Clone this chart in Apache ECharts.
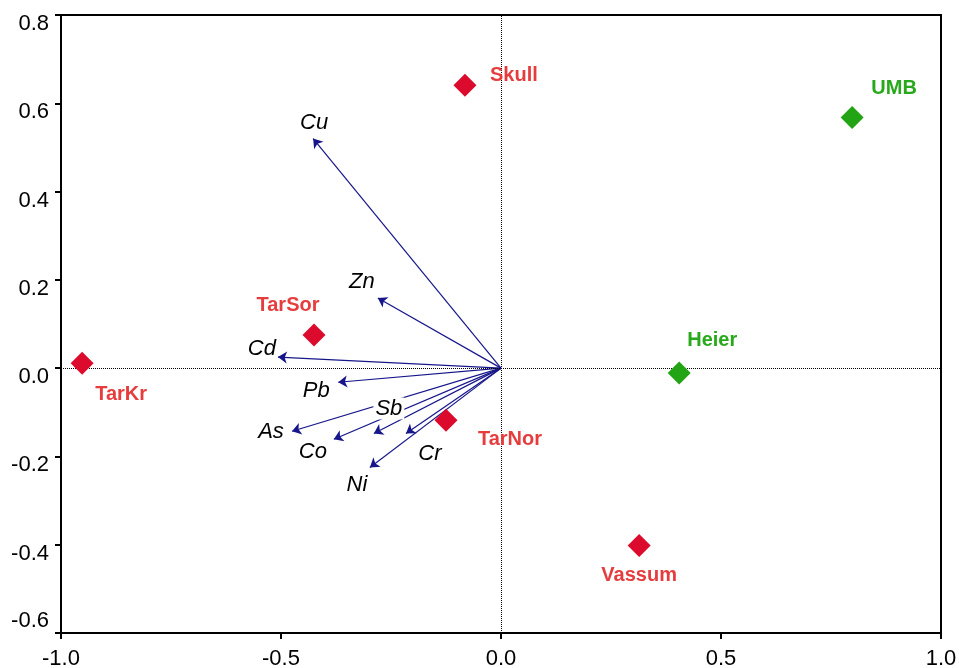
<!DOCTYPE html>
<html>
<head>
<meta charset="utf-8">
<script src="https://cdn.jsdelivr.net/npm/echarts@6/dist/echarts.min.js"></script>
<style>
  html, body { margin: 0; padding: 0; background: #fff; }
  #chart { width: 959px; height: 668px; }
</style>
</head>
<body>
<div id="chart"></div>
<script>
// Sample scores (diamonds)
const siteNames = ['TarKr', 'TarSor', 'Skull', 'TarNor', 'Vassum', 'Heier', 'UMB'];
const siteX = [-0.952, -0.425, -0.082, -0.125, 0.314, 0.405, 0.798];
const siteY = [0.011, 0.075, 0.641, -0.118, -0.402, -0.011, 0.568];
const siteGroup = ['red', 'red', 'red', 'red', 'red', 'green', 'green'];

// Element loadings (arrows from the origin)
const elemNames = ['Cu', 'Zn', 'Cd', 'Pb', 'Sb', 'As', 'Co', 'Cr', 'Ni'];
const elemX = [-0.427, -0.280, -0.507, -0.370, -0.289, -0.475, -0.380, -0.216, -0.298];
const elemY = [0.520, 0.159, 0.025, -0.032, -0.148, -0.143, -0.161, -0.148, -0.225];

// Axis ticks
const xTicks = [-1.0, -0.5, 0.0, 0.5, 1.0];
const yTicks = [-0.6, -0.4, -0.2, 0.0, 0.2, 0.4, 0.6, 0.8];

// Label placement (pixel offsets from each mark)
const siteLabelOffset = {
  TarKr: [39, 31], TarSor: [-26, -30], Skull: [49, -10], TarNor: [64, 19],
  Vassum: [0, 30], Heier: [33, -33], UMB: [42, -29]
};
const elemLabelOffset = {
  Cu: [1, -16], Zn: [-16, -16], Cd: [-16, -8], Pb: [-22, 9], Sb: [15, -25],
  As: [-21, 1], Co: [-21, 13], Cr: [24, 20], Ni: [-13, 17]
};

const palette = {
  red: { mark: '#dc0a2c', text: '#e63c3e' },
  green: { mark: '#22a414', text: '#28a91c' }
};
const arrowColor = '#16168a';
const font = '"Liberation Sans", Arial, Helvetica, sans-serif';

const siteData = siteNames.map((n, i) => ({
  name: n,
  value: [siteX[i], siteY[i]],
  itemStyle: { color: palette[siteGroup[i]].mark, opacity: 1 },
  label: {
    show: true, position: 'inside', formatter: n,
    offset: siteLabelOffset[n],
    color: palette[siteGroup[i]].text,
    fontFamily: font, fontSize: 20, fontWeight: 'bold'
  }
}));

const arrowData = elemNames.map((n, i) => ({
  name: n,
  coords: [[0, 0], [elemX[i], elemY[i]]]
}));

const elemLabelData = elemNames.map((n, i) => ({
  name: n,
  value: [elemX[i], elemY[i]],
  label: {
    show: true, position: 'inside', formatter: n,
    offset: elemLabelOffset[n],
    color: '#000', fontFamily: font, fontSize: 22, fontStyle: 'italic',
    backgroundColor: n === 'Sb' ? '#fff' : 'transparent',
    padding: [0, 2]
  }
}));

const chart = echarts.init(document.getElementById('chart'), null, { renderer: 'canvas' });

chart.setOption({
  animation: false,
  backgroundColor: '#fff',
  grid: {
    left: 61, right: 18, top: 15, bottom: 35,
    outerBoundsMode: 'none', containLabel: false,
    show: true, borderColor: '#000', borderWidth: 2, backgroundColor: 'transparent'
  },
  xAxis: {
    type: 'value', min: xTicks[0], max: xTicks[xTicks.length - 1], interval: 0.5,
    axisLine: { show: true, onZero: false, lineStyle: { color: '#000', width: 2 } },
    axisTick: { show: true, length: 6, lineStyle: { color: '#000', width: 2 } },
    splitLine: { show: false },
    axisLabel: {
      margin: 15, color: '#000', fontFamily: font, fontSize: 22,
      formatter: v => v.toFixed(1)
    }
  },
  yAxis: {
    type: 'value', min: yTicks[0], max: yTicks[yTicks.length - 1], interval: 0.2,
    axisLine: { show: true, onZero: false, lineStyle: { color: '#000', width: 2 } },
    axisTick: { show: true, length: 6, lineStyle: { color: '#000', width: 2 } },
    splitLine: { show: false },
    axisLabel: {
      margin: 12, color: '#000', fontFamily: font, fontSize: 22,
      formatter: v => {
        const s = v.toFixed(1);
        return Math.abs(v - yTicks[0]) < 1e-9 ? '{low|' + s + '}' : '{std|' + s + '}';
      },
      rich: {
        std: { fontFamily: font, fontSize: 22, color: '#000', padding: [18, 0, 0, 0] },
        low: { fontFamily: font, fontSize: 22, color: '#000', padding: [0, 0, 24, 0] }
      }
    }
  },
  series: [
    {
      // dotted zero reference lines
      type: 'scatter', data: [], silent: true,
      markLine: {
        silent: true, symbol: 'none', label: { show: false },
        lineStyle: { color: '#000', type: [1, 1], width: 1 },
        data: [{ xAxis: 0 }, { yAxis: 0 }]
      }
    },
    {
      type: 'lines', coordinateSystem: 'cartesian2d', silent: true,
      symbol: ['none', 'arrow'], symbolSize: 9,
      lineStyle: { color: arrowColor, width: 1.2, opacity: 1 },
      data: arrowData,
      z: 3
    },
    {
      type: 'scatter', silent: true,
      symbol: 'circle', symbolSize: 1,
      itemStyle: { color: 'rgba(0,0,0,0)', opacity: 1 },
      data: elemLabelData,
      z: 4
    },
    {
      type: 'scatter', silent: true,
      symbol: 'diamond', symbolSize: 23,
      itemStyle: { opacity: 1 },
      data: siteData,
      z: 5
    }
  ]
});
</script>
</body>
</html>
